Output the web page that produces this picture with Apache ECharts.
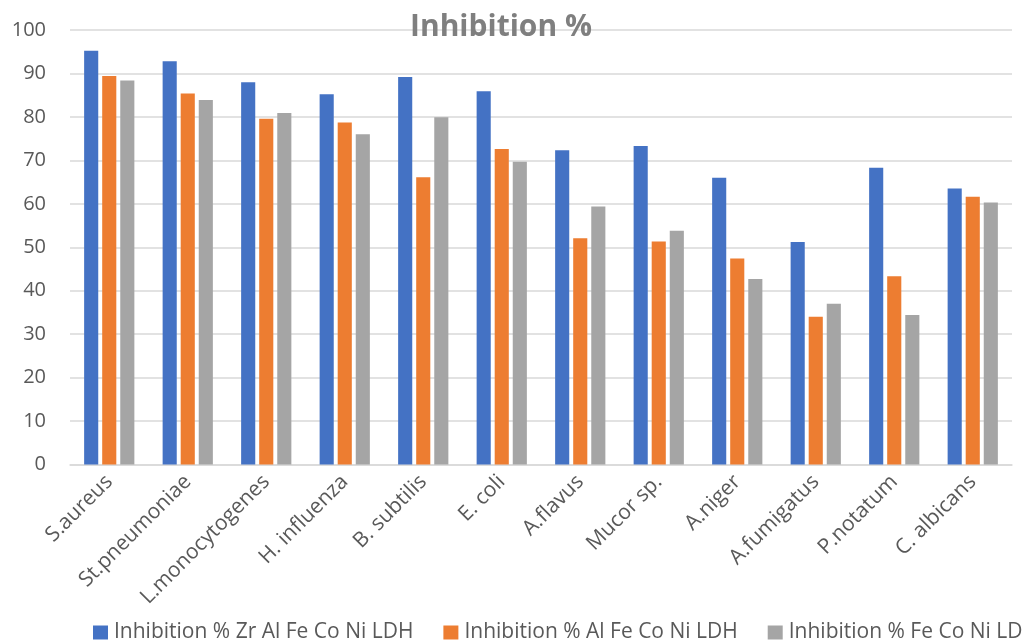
<!DOCTYPE html>
<html>
<head>
<meta charset="utf-8">
<script src="https://cdn.jsdelivr.net/npm/echarts@6/dist/echarts.min.js"></script>
<style>html,body{margin:0;padding:0;background:#fff;}#c{width:1022px;height:641px;}</style>
</head>
<body>
<div id="c"></div>
<script>
const categories = ["S.aureus","St.pneumoniae","L.monocytogenes","H. influenza","B. subtilis","E. coli","A.flavus","Mucor sp.","A.niger","A.fumigatus","P.notatum","C. albicans"];
const seriesNames = ["Inhibition % Zr Al Fe Co Ni LDH","Inhibition % Al Fe Co Ni LDH","Inhibition % Fe Co Ni LDH"];
const zrAlFeCoNi = [95.2, 92.8, 88.0, 85.2, 89.2, 85.9, 72.3, 73.3, 66.0, 51.2, 68.3, 63.5];
const alFeCoNi   = [89.4, 85.4, 79.6, 78.7, 66.1, 72.6, 52.1, 51.3, 47.4, 34.0, 43.3, 61.6];
const feCoNi     = [88.4, 83.9, 80.9, 76.0, 79.9, 69.7, 59.4, 53.8, 42.7, 37.0, 34.4, 60.3];
const colors = ["#4472C4","#ED7D31","#A5A5A5"];
const font = "'Open Sans', sans-serif";
const values = [zrAlFeCoNi, alFeCoNi, feCoNi];

const chart = echarts.init(document.getElementById('c'), null, {renderer:'canvas'});
chart.setOption({
  animation: false,
  backgroundColor: '#ffffff',
  title: {
    text: 'Inhibition %',
    left: 405, top: 7,
    textStyle: {fontFamily: font, fontSize: 30, fontWeight: 'bold', color: '#7f7f7f'}
  },
  legend: {
    left: 88, top: 617, width: 3000,
    itemWidth: 15, itemHeight: 14, itemGap: 30,
    icon: 'rect',
    textStyle: {fontFamily: font, fontSize: 21, color: '#595959', padding: [0,0,0,1]},
    data: seriesNames
  },
  grid: {left: 70, right: 10, top: 30, bottom: 176.5, containLabel: false},
  xAxis: {
    type: 'category',
    data: categories,
    axisLine: {lineStyle: {color: '#d9d9d9', width: 1.5}},
    axisTick: {show: false},
    axisLabel: {rotate: 45, interval: 0, margin: 14, fontFamily: font, fontSize: 21, color: '#595959'}
  },
  yAxis: {
    type: 'value', min: 0, max: 100, interval: 10,
    axisLine: {show: false}, axisTick: {show: false},
    axisLabel: {margin: 24, fontFamily: font, fontSize: 20, color: '#595959'},
    splitLine: {lineStyle: {color: '#d9d9d9', width: 1.5}}
  },
  series: seriesNames.map((n, i) => ({
    name: n, type: 'bar', data: values[i],
    barGap: '28%', barCategoryGap: '36%',
    itemStyle: {color: colors[i]}
  }))
});
</script>
</body>
</html>
